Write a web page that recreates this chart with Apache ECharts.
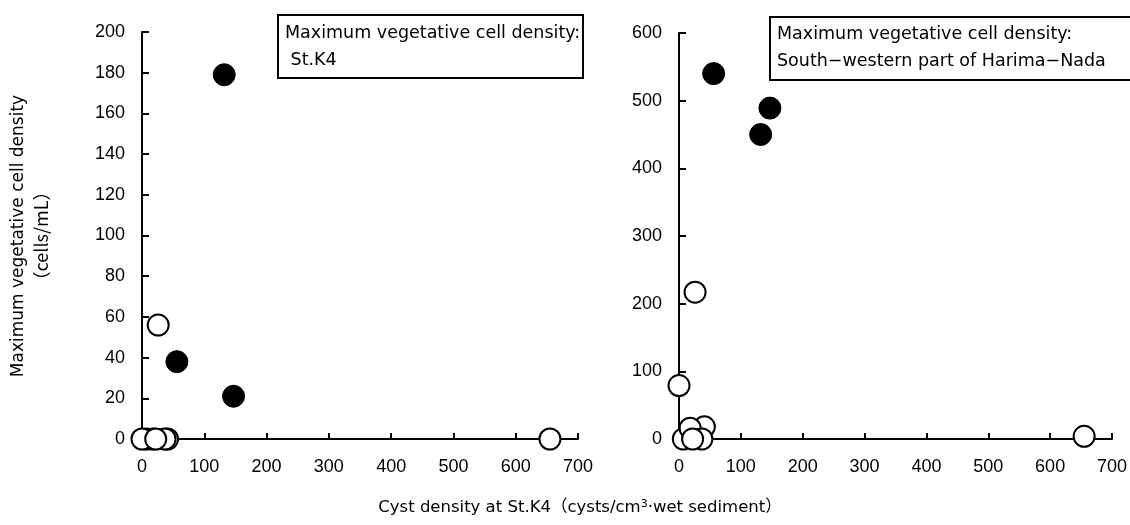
<!DOCTYPE html>
<html>
<head>
<meta charset="utf-8">
<script src="https://cdn.jsdelivr.net/npm/echarts@6/dist/echarts.min.js"></script>
<style>
html,body{margin:0;padding:0;background:#fff;}
#chart{width:1130px;height:525px;}
</style>
</head>
<body>
<div id="chart"></div>
<script>
// Cyst density at St.K4 (x) for open (low) and filled (high) circles
var xOpen = [41, 7, 18, 37, 0, 22, 26, 655];
var leftOpenY = [0, 0, 0, 0, 0, 0, 56, 0];
var rightOpenY = [18, 0, 16, 0, 79, 0, 217, 4];
var xFilled = [56, 132, 147];
var leftFilledY = [38, 179, 21];
var rightFilledY = [540, 450, 489];

var xTicks = [0, 100, 200, 300, 400, 500, 600, 700];
var leftYTicks = [0, 20, 40, 60, 80, 100, 120, 140, 160, 180, 200];
var rightYTicks = [0, 100, 200, 300, 400, 500, 600];

var yTitle1 = 'Maximum vegetative cell density';
var yTitle2 = '（cells/mL）';
var xTitle = 'Cyst density at St.K4（cysts/cm{sup|3}·wet sediment）';
var leftBox = ['Maximum vegetative cell density:', ' St.K4'];
var rightBox = ['Maximum vegetative cell density:', 'South\u2212western part of Harima\u2212Nada'];

function pairs(xs, ys) { return xs.map(function (x, i) { return [x, ys[i]]; }); }

var labelFont = { color: '#000', fontSize: 18, fontFamily: 'Liberation Sans, Arial, sans-serif' };
var boxFont = 'DejaVu Sans, sans-serif';

function xAxis(gi) {
  return {
    type: 'value', gridIndex: gi, min: xTicks[0], max: xTicks[xTicks.length - 1], interval: xTicks[1] - xTicks[0],
    axisLine: { show: true, onZero: false, lineStyle: { color: '#000', width: 2 } },
    axisTick: { show: true, inside: true, length: 6, lineStyle: { color: '#000', width: 2 } },
    axisLabel: Object.assign({ margin: 19 }, labelFont),
    splitLine: { show: false }
  };
}
function yAxis(gi, ticks) {
  return {
    type: 'value', gridIndex: gi, min: ticks[0], max: ticks[ticks.length - 1], interval: ticks[1] - ticks[0],
    axisLine: { show: true, onZero: false, lineStyle: { color: '#000', width: 2 } },
    axisTick: { show: true, inside: true, length: 7, lineStyle: { color: '#000', width: 2 } },
    axisLabel: Object.assign({ margin: 17 }, labelFont),
    splitLine: { show: false }
  };
}

var openStyle = { color: '#fff', borderColor: '#000', borderWidth: 2, opacity: 1 };
var filledStyle = { color: '#000', borderColor: '#000', borderWidth: 1, opacity: 1 };

var chart = echarts.init(document.getElementById('chart'), null, { renderer: 'canvas' });
chart.setOption({
  animation: false,
  backgroundColor: '#fff',
  grid: [
    { left: 142, top: 32, width: 436, height: 407 },
    { left: 679, top: 33, width: 433, height: 406 }
  ],
  xAxis: [xAxis(0), xAxis(1)],
  yAxis: [yAxis(0, leftYTicks), yAxis(1, rightYTicks)],
  series: [
    { type: 'scatter', xAxisIndex: 0, yAxisIndex: 0, symbolSize: 21, itemStyle: openStyle, data: pairs(xOpen, leftOpenY) },
    { type: 'scatter', xAxisIndex: 0, yAxisIndex: 0, symbolSize: 22, itemStyle: filledStyle, data: pairs(xFilled, leftFilledY) },
    { type: 'scatter', xAxisIndex: 1, yAxisIndex: 1, symbolSize: 21, itemStyle: openStyle, data: pairs(xOpen, rightOpenY) },
    { type: 'scatter', xAxisIndex: 1, yAxisIndex: 1, symbolSize: 22, itemStyle: filledStyle, data: pairs(xFilled, rightFilledY) }
  ],
  graphic: [
    { type: 'text', x: 19, y: 236, rotation: Math.PI / 2,
      style: { text: yTitle1, fill: '#000', font: '17px DejaVu Sans, sans-serif', textAlign: 'center', textVerticalAlign: 'middle' } },
    { type: 'text', x: 41, y: 236, rotation: Math.PI / 2,
      style: { text: yTitle2, fill: '#000', font: '18px Noto Sans CJK JP, sans-serif', textAlign: 'center', textVerticalAlign: 'middle' } },
    { type: 'text', x: 580, y: 508,
      style: { text: xTitle, fill: '#000', fontSize: 16.5, fontFamily: 'DejaVu Sans, Noto Sans CJK JP, sans-serif', align: 'center', verticalAlign: 'middle',
        rich: { sup: { fontSize: 11, verticalAlign: 'top', fontFamily: 'DejaVu Sans, sans-serif', padding: [0, 0, 8, 0] } } } },
    { type: 'rect', shape: { x: 278, y: 15, width: 305, height: 63 }, style: { fill: '#fff', stroke: '#000', lineWidth: 2 }, z: 10 },
    { type: 'text', x: 285, y: 20, z: 11,
      style: { text: leftBox.join('\n'), fill: '#000', fontSize: 17.5, fontFamily: boxFont, lineHeight: 27 } },
    { type: 'rect', shape: { x: 770, y: 17, width: 380, height: 63 }, style: { fill: '#fff', stroke: '#000', lineWidth: 2 }, z: 10 },
    { type: 'text', x: 777, y: 21, z: 11,
      style: { text: rightBox.join('\n'), fill: '#000', fontSize: 17.5, fontFamily: boxFont, lineHeight: 27 } }
  ]
});
</script>
</body>
</html>
